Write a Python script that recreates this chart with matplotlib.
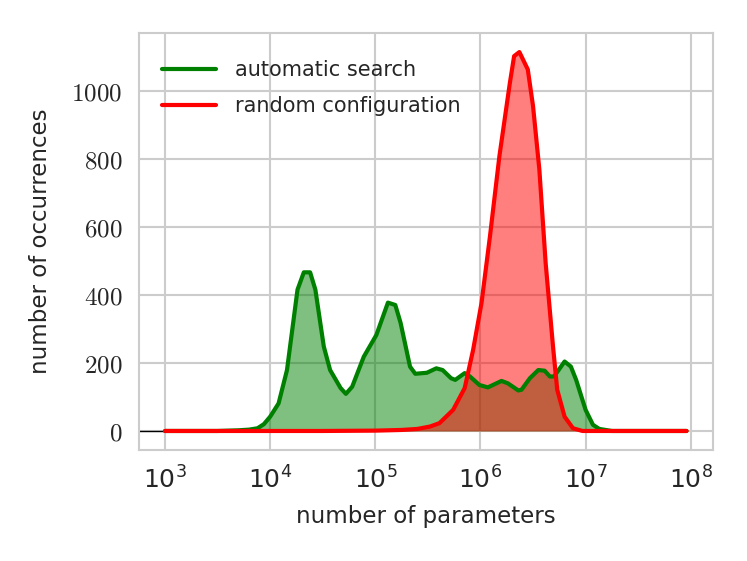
# Distribution of model sizes: automatic search vs random configuration
import matplotlib.pyplot as plt
import matplotlib.ticker as mticker
import numpy as np
import seaborn as sns

# log10(number of parameters) and counts
auto_logx = [3.00, 3.50, 3.70, 3.80, 3.88, 3.94, 4.00, 4.08, 4.16, 4.26,
             4.32, 4.38, 4.43, 4.51, 4.57, 4.67, 4.72, 4.78, 4.89, 5.01,
             5.12, 5.19, 5.24, 5.33, 5.38, 5.49, 5.58, 5.64, 5.72, 5.76,
             5.85, 5.90, 5.99, 6.07, 6.20, 6.26, 6.36, 6.39, 6.47, 6.55,
             6.61, 6.66, 6.70, 6.80, 6.86, 6.91, 7.00, 7.07, 7.13, 7.25,
             7.96]
auto_counts = [0, 0, 2, 4, 8, 20, 42, 81, 179, 415,
               466, 466, 415, 248, 179, 126, 109, 130, 218, 282,
               377, 370, 318, 189, 168, 171, 184, 179, 155, 150,
               170, 160, 135, 128, 147, 140, 119, 121, 155, 179,
               177, 160, 160, 204, 189, 150, 62, 18, 6, 0,
               0]

rand_logx = [3.00, 4.50, 5.00, 5.25, 5.40, 5.52, 5.61, 5.74, 5.85, 5.93,
             6.01, 6.09, 6.18, 6.28, 6.32, 6.37, 6.45, 6.50, 6.56, 6.62,
             6.69, 6.73, 6.80, 6.88, 6.97, 7.96]
rand_counts = [0, 0, 1, 3, 6, 13, 23, 62, 126, 238,
               376, 571, 807, 1023, 1101, 1113, 1062, 954, 768, 493,
               248, 121, 42, 8, 0, 0]

labels = ['automatic search', 'random configuration']

sns.set_theme(style='whitegrid')
plt.rcParams['font.family'] = ['DejaVu Sans']
plt.rcParams['mathtext.fontset'] = 'cm'

fig, ax = plt.subplots(figsize=(7.47, 5.61), dpi=100)
fig.subplots_adjust(left=0.186, right=0.954, top=0.941, bottom=0.198)

ax.axhline(0, xmax=0.045, color='black', lw=1.0, zorder=1)

series = [(auto_logx, auto_counts, 'green'), (rand_logx, rand_counts, 'red')]
for (lx, cnt, col), lab in zip(series, labels):
    x = 10 ** np.array(lx)
    ax.fill_between(x, cnt, color=col, alpha=0.5, lw=0)
    ax.plot(x, cnt, color=col, lw=3, label=lab)

ax.set_xscale('log')
ax.xaxis.set_major_locator(mticker.LogLocator(base=10, numticks=10))
ax.xaxis.set_minor_locator(mticker.NullLocator())
ax.set_yticks([0, 200, 400, 600, 800, 1000])
ax.yaxis.set_major_formatter(mticker.FuncFormatter(lambda v, p: r'$%d$' % v))

for sp in ax.spines.values():
    sp.set_color('#cccccc')
    sp.set_linewidth(1.5)
ax.grid(True, color='#cccccc', lw=1.5)
ax.tick_params(labelsize=18, colors='#262626', pad=6)

ax.set_xlabel('number of parameters', fontsize=16.5, color='#262626', labelpad=8)
ax.set_ylabel('number of occurrences', fontsize=16.5, color='#262626', labelpad=14)

ax.legend(loc='upper left', bbox_to_anchor=(-0.007, 1), frameon=False,
          fontsize=15, handlelength=2.6, handletextpad=0.9,
          borderaxespad=0.9, labelspacing=0.75)

fig.savefig('out.png', dpi=100)
print('Visualization complete.')
